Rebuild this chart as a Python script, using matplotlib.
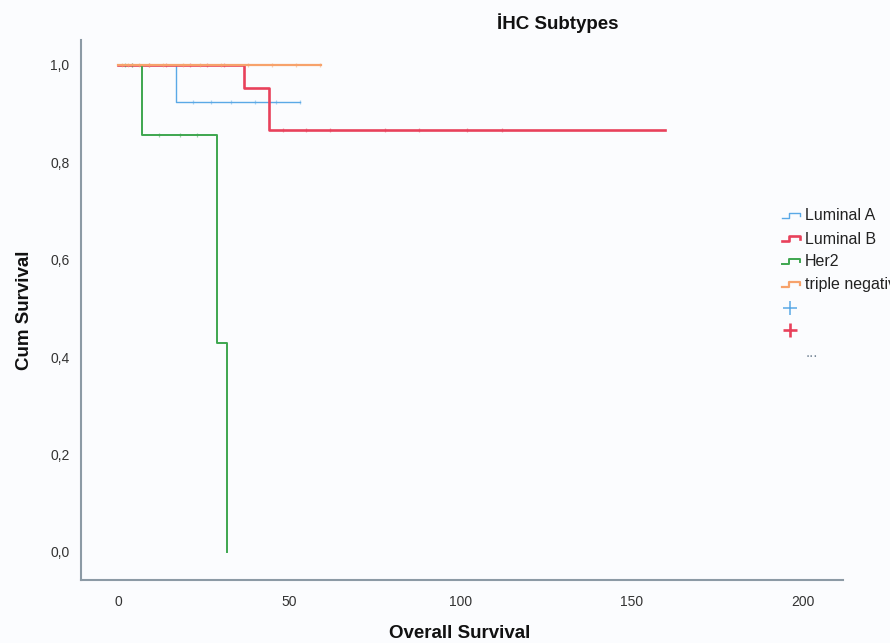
import matplotlib

matplotlib.use("Agg")
import matplotlib.pyplot as plt
from matplotlib.lines import Line2D

plt.rcParams["font.family"] = ["Liberation Sans", "DejaVu Sans"]

# Kaplan-Meier step data (time, cumulative survival)
lum_a_t = [0, 16.8, 53.1]
lum_a_s = [1.0, 0.923, 0.923]
lum_b_t = [0, 36.8, 44.1, 159.6]
lum_b_s = [1.0, 0.952, 0.866, 0.866]
her2_t = [0, 6.9, 28.8, 31.9]
her2_s = [1.0, 0.857, 0.429, 0.0]
tn_t = [0, 59.3]
tn_s = [1.0, 1.0]

# censored observations
lum_a_cens_t = [22, 27, 33, 40, 46, 53]
lum_a_cens_s = [0.923] * 6
lum_b_cens_t = [4, 9, 14, 21, 26, 31, 48, 55, 62, 78, 88, 102, 112]
lum_b_cens_s = [1.0] * 6 + [0.866] * 7
her2_cens_t = [2, 4, 12, 18, 23]
her2_cens_s = [1.0, 1.0, 0.857, 0.857, 0.857]
tn_cens_t = [1, 3, 6, 9, 13, 19, 24, 30, 38, 45, 52, 59]
tn_cens_s = [1.0] * 12

group_names = ["Luminal A", "Luminal B", "Her2", "triple negative"]
colors = ["#5aa9e6", "#e8415b", "#3da64f", "#f7a26b"]
widths = [1.0, 1.9, 1.4, 1.6]

x_ticks = [0, 50, 100, 150, 200]
y_ticks = [0.0, 0.2, 0.4, 0.6, 0.8, 1.0]
y_tick_labels = ["0,0", "0,2", "0,4", "0,6", "0,8", "1,0"]

W, H = 890, 643
bg = "#fbfcfe"
fig = plt.figure(figsize=(W / 100, H / 100), dpi=100)
fig.patch.set_facecolor(bg)


def fx(x):
    return x / W


def fy(y):
    return 1 - y / H


ax = fig.add_axes([fx(80.5), fy(580), fx(843) - fx(80.5), fy(40) - fy(580)])
ax.set_facecolor(bg)

series = [
    (lum_a_t, lum_a_s, lum_a_cens_t, lum_a_cens_s),
    (lum_b_t, lum_b_s, lum_b_cens_t, lum_b_cens_s),
    (her2_t, her2_s, her2_cens_t, her2_cens_s),
    (tn_t, tn_s, tn_cens_t, tn_cens_s),
]
# orange drawn first so red/green sit on top of the 1.0 line
order = [3, 0, 2, 1]
for i in order:
    t, s, ct, cs = series[i]
    ax.step(t, s, where="post", color=colors[i], linewidth=widths[i], zorder=3 + i)
    ax.plot(ct, cs, linestyle="none", marker="|", markersize=3, color=colors[i],
            alpha=0.5, markeredgewidth=0.9, zorder=3 + i)

ax.set_xlim(-11.0, 211.7)
ax.set_ylim(-0.0575, 1.051)
ax.set_xticks(x_ticks)
ax.set_yticks(y_ticks)
ax.set_yticklabels(y_tick_labels)
ax.tick_params(length=0, labelsize=10, colors="#333333", pad=8)
ax.tick_params(axis="x", pad=11)
for side in ("top", "right"):
    ax.spines[side].set_visible(False)
for side in ("left", "bottom"):
    ax.spines[side].set_color("#8c9aa5")
    ax.spines[side].set_linewidth(1.5)

fig.text(fx(460), fy(633), "Overall Survival", ha="center", va="center",
         fontsize=13.5, fontweight="bold", color="#111111")
fig.text(fx(25), fy(310), "Cum Survival", ha="center", va="center", rotation=90,
         fontsize=13.5, fontweight="bold", color="#111111")
fig.text(fx(558), fy(23), "İHC Subtypes", ha="center", va="center",
         fontsize=13.5, fontweight="bold", color="#111111")

# legend, drawn by hand to mimic the SPSS step icons
rows_y = [216, 239, 262, 285]
for i, name in enumerate(group_names):
    y0 = rows_y[i]
    xs = [782, 789, 789, 800, 800]
    ys = [y0 + 2, y0 + 2, y0 - 3, y0 - 3, y0]
    fig.add_artist(Line2D([fx(v) for v in xs], [fy(v) for v in ys],
                          color=colors[i], linewidth=widths[i],
                          transform=fig.transFigure))
    fig.text(fx(805), fy(y0), name, ha="left", va="center", fontsize=11.5,
             color="#222222")

for j, y0 in enumerate([308, 330]):
    fig.add_artist(Line2D([fx(790)], [fy(y0)], marker="+", markersize=10,
                          markeredgewidth=1.1 if j == 0 else 1.9,
                          color=colors[j], linestyle="none",
                          transform=fig.transFigure))
fig.text(fx(812), fy(353), "...", ha="center", va="center", fontsize=11,
         color="#7a8a9a")

fig.savefig("out.png", dpi=100, facecolor=bg)
